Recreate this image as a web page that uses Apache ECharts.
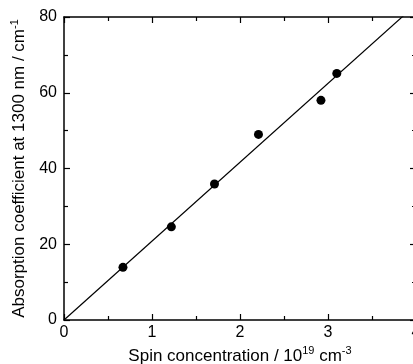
<!DOCTYPE html>
<html>
<head>
<meta charset="utf-8">
<script src="https://cdn.jsdelivr.net/npm/echarts@6/dist/echarts.min.js"></script>
<style>
  html, body { margin: 0; padding: 0; background: #fff; }
  #chart { width: 413px; height: 364px; }
</style>
</head>
<body>
<div id="chart"></div>
<script>
// measured points
const spinConc = [0.67, 1.22, 1.71, 2.21, 2.92, 3.10];
const absorption = [13.9, 24.6, 35.9, 49.0, 58.0, 65.1];

// linear fit through origin
const fitX = [0, 4];
const fitY = [0, 83.3];

const xTicks = [0, 1, 2, 3, 4];
const yTicks = [0, 20, 40, 60, 80];

const chart = echarts.init(document.getElementById("chart"));

const font = "Liberation Sans, Arial, sans-serif";
const ink = "#000";

// shared axis styling (ticks point inward, like the original plot)
const frameAxis = {
  axisLine: { show: true, onZero: false, lineStyle: { color: ink, width: 1.5 } },
  axisTick: { show: true, inside: true, length: 6, lineStyle: { color: ink, width: 1.2 } },
  minorTick: { show: true, splitNumber: 2, length: 4, lineStyle: { color: ink, width: 1.2 } },
  splitLine: { show: false },
};

const titleRich = {
  t: { fontSize: 17, fontFamily: font, color: ink },
  s: { fontSize: 11, fontFamily: font, color: ink, verticalAlign: "top", padding: [0, 0, 9, 0] },
};

const option = {
  animation: false,
  grid: { left: 64, right: -3, top: 17, bottom: 44, outerBoundsMode: "none", containLabel: false },
  xAxis: [
    {
      type: "value",
      min: xTicks[0],
      max: xTicks[xTicks.length - 1],
      interval: 1,
      ...frameAxis,
      axisLabel: { color: ink, fontSize: 16, fontFamily: font, margin: 5 },
      name: "{t|Spin concentration / 10}{s|19}{t| cm}{s|-3}",
      nameLocation: "middle",
      nameGap: 21,
      nameTextStyle: { rich: titleRich },
    },
    {
      type: "value",
      position: "top",
      min: xTicks[0],
      max: xTicks[xTicks.length - 1],
      interval: 1,
      ...frameAxis,
      axisLabel: { show: false },
    },
  ],
  yAxis: [
    {
      type: "value",
      min: yTicks[0],
      max: yTicks[yTicks.length - 1],
      interval: 20,
      ...frameAxis,
      axisLabel: { color: ink, fontSize: 16, fontFamily: font, margin: 7 },
      name: "{t|Absorption coefficient at 1300 nm / cm}{s|-1}",
      nameLocation: "middle",
      nameGap: 26,
      nameTextStyle: { rich: titleRich },
    },
    {
      type: "value",
      position: "right",
      min: yTicks[0],
      max: yTicks[yTicks.length - 1],
      interval: 20,
      ...frameAxis,
      axisLabel: { show: false },
    },
  ],
  series: [
    {
      type: "line",
      data: fitX.map((x, i) => [x, fitY[i]]),
      showSymbol: false,
      symbol: "none",
      clip: true,
      lineStyle: { color: ink, width: 1.2 },
      silent: true,
    },
    {
      type: "scatter",
      data: spinConc.map((x, i) => [x, absorption[i]]),
      symbol: "circle",
      symbolSize: 9,
      itemStyle: { color: ink, opacity: 1 },
    },
  ],
};

chart.setOption(option);
</script>
</body>
</html>
